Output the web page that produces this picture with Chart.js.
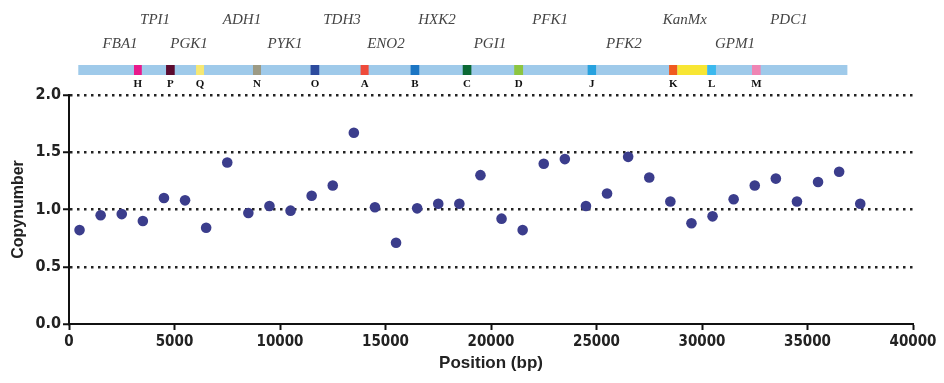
<!DOCTYPE html>
<html>
<head>
<meta charset="utf-8">
<script src="https://cdn.jsdelivr.net/npm/chart.js@4.4.1/dist/chart.umd.min.js"></script>
<style>
  html, body { margin: 0; padding: 0; background: #fff; overflow: hidden; }
  #wrap { width: 944px; height: 383px; }
</style>
</head>
<body>
<div id="wrap"><canvas id="grafico"></canvas></div>
<script>
// dados (posição em bp, número de cópias)
const posicoes = [500, 1500, 2500, 3500, 4500, 5500, 6500, 7500, 8500, 9500,
  10500, 11500, 12500, 13500, 14500, 15500, 16500, 17500, 18500, 19500,
  20500, 21500, 22500, 23500, 24500, 25500, 26500, 27500, 28500, 29500,
  30500, 31500, 32500, 33500, 34500, 35500, 36500, 37500];
const copias = [0.82, 0.95, 0.96, 0.90, 1.10, 1.08, 0.84, 1.41, 0.97, 1.03,
  0.99, 1.12, 1.21, 1.67, 1.02, 0.71, 1.01, 1.05, 1.05, 1.30,
  0.92, 0.82, 1.40, 1.44, 1.03, 1.14, 1.46, 1.28, 1.07, 0.88,
  0.94, 1.09, 1.21, 1.27, 1.07, 1.24, 1.33, 1.05];

const ticksX = [0, 5000, 10000, 15000, 20000, 25000, 30000, 35000, 40000];
const ticksY = [0, 0.5, 1.0, 1.5, 2.0];

// mapa do cromossomo (bp)
const barraInicio = 440;
const barraFim = 36890;
const marcadores = ['H', 'P', 'Q', 'N', 'O', 'A', 'B', 'C', 'D', 'J', 'K', '', 'L', 'M'];
const marcInicio = [3080, 4600, 6020, 8720, 11450, 13820, 16190, 18660, 21100, 24580, 28440, 28830, 30250, 32370];
const marcFim = [3450, 5010, 6400, 9100, 11860, 14200, 16600, 19070, 21520, 24980, 28830, 30250, 30660, 32780];
const marcCores = ['#e8198b', '#5c0b2f', '#f6e873', '#9c9a84', '#2d4b9e', '#ef4b3b', '#1c76c4', '#0b6934',
  '#8cc540', '#27a2df', '#f05a1f', '#f8e633', '#3bb9ee', '#ef85b3'];

const genes = ['FBA1', 'TPI1', 'PGK1', 'ADH1', 'PYK1', 'TDH3', 'ENO2', 'HXK2', 'PGI1', 'PFK1', 'PFK2', 'KanMx', 'GPM1', 'PDC1'];
const genesPos = [2420, 4080, 5690, 8200, 10240, 12940, 15020, 17440, 19950, 22800, 26300, 29190, 31560, 34120];

const mapaPlugin = {
  id: 'mapa',
  afterDraw(chart) {
    const ctx = chart.ctx;
    const x = chart.scales.x;
    const topo = 65, alt = 10;
    ctx.save();
    ctx.fillStyle = '#9fcaea';
    ctx.fillRect(x.getPixelForValue(barraInicio), topo, x.getPixelForValue(barraFim) - x.getPixelForValue(barraInicio), alt);
    for (let i = 0; i < marcadores.length; i++) {
      const a = x.getPixelForValue(marcInicio[i]);
      const b = x.getPixelForValue(marcFim[i]);
      ctx.fillStyle = marcCores[i];
      ctx.fillRect(a, topo, b - a, alt);
      if (marcadores[i]) {
        ctx.fillStyle = '#111';
        ctx.font = 'bold 11px "Liberation Serif", serif';
        ctx.textAlign = 'center';
        ctx.textBaseline = 'middle';
        ctx.fillText(marcadores[i], (a + b) / 2, 84);
      }
    }
    ctx.fillStyle = '#444';
    ctx.font = 'italic 15px "Liberation Serif", serif';
    ctx.textAlign = 'center';
    ctx.textBaseline = 'middle';
    genes.forEach((g, i) => {
      const y = i % 2 === 0 ? 44 : 20;
      ctx.fillText(g, x.getPixelForValue(genesPos[i]), y);
    });
    ctx.restore();
  }
};

const fonteEixo = "'Liberation Sans Narrow', 'DejaVu Sans Condensed', 'Liberation Sans', sans-serif";

new Chart(document.getElementById('grafico'), {
  type: 'scatter',
  data: {
    datasets: [{
      data: posicoes.map((p, i) => ({ x: p, y: copias[i] })),
      backgroundColor: '#3b3d8c',
      borderWidth: 0,
      pointRadius: 5.3,
      pointHoverRadius: 5.3
    }]
  },
  options: {
    responsive: true,
    maintainAspectRatio: false,
    animation: false,
    layout: { padding: { top: 95, right: 31, left: 0, bottom: 0 } },
    plugins: { legend: { display: false }, tooltip: { enabled: false } },
    scales: {
      x: {
        type: 'linear',
        min: 0, max: 40000,
        afterBuildTicks: s => { s.ticks = ticksX.map(v => ({ value: v })); },
        afterFit: s => { s.height = 59; },
        ticks: { color: '#222', font: { family: fonteEixo, weight: 'bold', size: 15 }, padding: 3, maxRotation: 0, callback: v => String(v) },
        grid: { drawOnChartArea: false, drawTicks: true, tickLength: 6, tickWidth: 2, tickColor: '#111' },
        border: { display: true, color: '#111', width: 2 },
        title: { display: true, text: 'Position (bp)', color: '#222', font: { family: "'Liberation Sans', sans-serif", weight: 'bold', size: 17 }, padding: { top: 0, bottom: 9 } }
      },
      y: {
        min: 0, max: 2,
        afterBuildTicks: s => { s.ticks = ticksY.map(v => ({ value: v })); },
        afterFit: s => { s.width = 69; },
        ticks: { color: '#222', font: { family: fonteEixo, weight: 'bold', size: 16 }, padding: 2, callback: v => v.toFixed(1) },
        grid: {
          color: c => c.tick && c.tick.value === 0 ? 'rgba(0,0,0,0)' : '#222',
          lineWidth: 2.5,
          drawTicks: true, tickLength: 6, tickWidth: 2, tickColor: '#111'
        },
        border: { display: true, color: '#111', width: 2, dash: [2.5, 4.5] },
        title: { display: true, text: 'Copynumber', color: '#222', font: { family: "'Liberation Sans', sans-serif", weight: 'bold', size: 16 }, padding: { top: 9, bottom: 0 } }
      }
    }
  },
  plugins: [mapaPlugin]
});
</script>
</body>
</html>
